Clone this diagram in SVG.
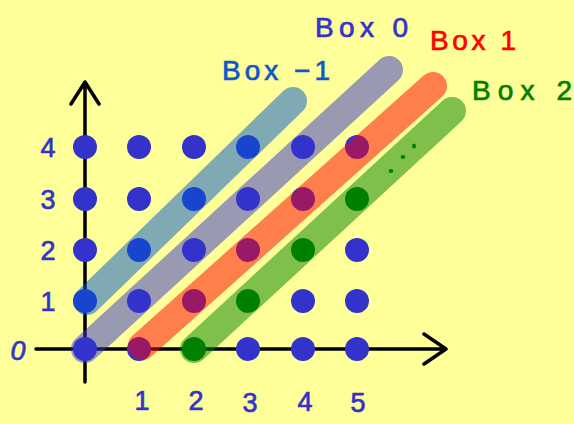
<svg xmlns="http://www.w3.org/2000/svg" width="574" height="424" viewBox="0 0 574 424">
<style>
.dot{fill:#3333cc}
.gdot{fill:#008000}
.band{fill:none;stroke-width:28;stroke-linecap:round;opacity:0.5}
.axis{fill:none;stroke:#000;stroke-width:3.5;stroke-linecap:round;stroke-linejoin:round}
.num{font-family:"Liberation Sans",Arial,sans-serif;font-size:27px;fill:#3333cc;stroke:#3333cc;stroke-width:0.7;text-anchor:middle}
.lbl{font-family:"Liberation Sans",Arial,sans-serif;font-size:28px;stroke-width:0.7}
</style>
<rect width="574" height="424" fill="#ffff99"/>
<g id="axes">
<path class="axis" d="M36 349H445M424 334L446 349L424 364"/>
<path class="axis" d="M85 382V82M71 104L85 82L99 104"/>
</g>
<g id="grid">
<g id="row0"><circle class="dot" cx="85" cy="349" r="12"/><circle class="dot" cx="139" cy="349" r="12"/><circle class="dot" cx="248" cy="349" r="12"/><circle class="dot" cx="303" cy="349" r="12"/><circle class="dot" cx="357" cy="349" r="12"/></g>
<g id="row1"><circle class="dot" cx="85" cy="301" r="12"/><circle class="dot" cx="139" cy="301" r="12"/><circle class="dot" cx="194" cy="301" r="12"/><circle class="dot" cx="303" cy="301" r="12"/><circle class="dot" cx="357" cy="301" r="12"/></g>
<g id="row2"><circle class="dot" cx="85" cy="250" r="12"/><circle class="dot" cx="139" cy="250" r="12"/><circle class="dot" cx="194" cy="250" r="12"/><circle class="dot" cx="248" cy="250" r="12"/><circle class="dot" cx="357" cy="250" r="12"/></g>
<g id="row3"><circle class="dot" cx="85" cy="199" r="12"/><circle class="dot" cx="139" cy="199" r="12"/><circle class="dot" cx="194" cy="199" r="12"/><circle class="dot" cx="248" cy="199" r="12"/><circle class="dot" cx="303" cy="199" r="12"/></g>
<g id="row4"><circle class="dot" cx="85" cy="147" r="12"/><circle class="dot" cx="139" cy="147" r="12"/><circle class="dot" cx="194" cy="147" r="12"/><circle class="dot" cx="248" cy="147" r="12"/><circle class="dot" cx="303" cy="147" r="12"/><circle class="dot" cx="357" cy="147" r="12"/></g>
</g>
<g id="connectors">
<line id="band-m1" class="band" stroke="#0055d0" x1="87" y1="301" x2="293" y2="101"/>
<line id="band-0" class="band" stroke="#3333cc" x1="85" y1="349" x2="389" y2="70"/>
<line id="band-1" class="band" stroke="#ff0000" x1="142" y1="346" x2="433" y2="86"/>
<line id="band-2" class="band" stroke="#008000" x1="194" y1="349" x2="452" y2="111"/>
</g>
<g id="green-dots">
<circle class="gdot" cx="194" cy="349" r="12"/><circle class="gdot" cx="248" cy="301" r="12"/><circle class="gdot" cx="303" cy="250" r="12"/><circle class="gdot" cx="357" cy="199" r="12"/>
<ellipse class="gdot" cx="391" cy="171" rx="2.3" ry="2"/><ellipse class="gdot" cx="403" cy="157" rx="2.3" ry="2"/><ellipse class="gdot" cx="414" cy="146" rx="2" ry="2.6"/>
</g>
<g id="ylabels">
<text class="num" x="48" y="157">4</text>
<text class="num" x="48" y="209">3</text>
<text class="num" x="48" y="260">2</text>
<text class="num" x="48" y="311">1</text>
<text class="num" x="18" y="360" font-style="italic">0</text>
</g>
<g id="xlabels">
<text class="num" x="142" y="410">1</text>
<text class="num" x="196" y="410">2</text>
<text class="num" x="250" y="412">3</text>
<text class="num" x="305" y="411">4</text>
<text class="num" x="358" y="412">5</text>
</g>
<g id="box-labels">
<text class="lbl" fill="#1155cc" stroke="#1155cc" x="222" y="80" textLength="108" lengthAdjust="spacing">Box −1</text>
<text class="lbl" fill="#3333cc" stroke="#3333cc" x="315" y="37" textLength="93" lengthAdjust="spacing">Box 0</text>
<text class="lbl" fill="#ff0000" stroke="#ff0000" x="430" y="50" textLength="86" lengthAdjust="spacing">Box 1</text>
<text class="lbl" fill="#008000" stroke="#008000" x="472" y="100" textLength="100" lengthAdjust="spacing">Box 2</text>
</g>
</svg>
